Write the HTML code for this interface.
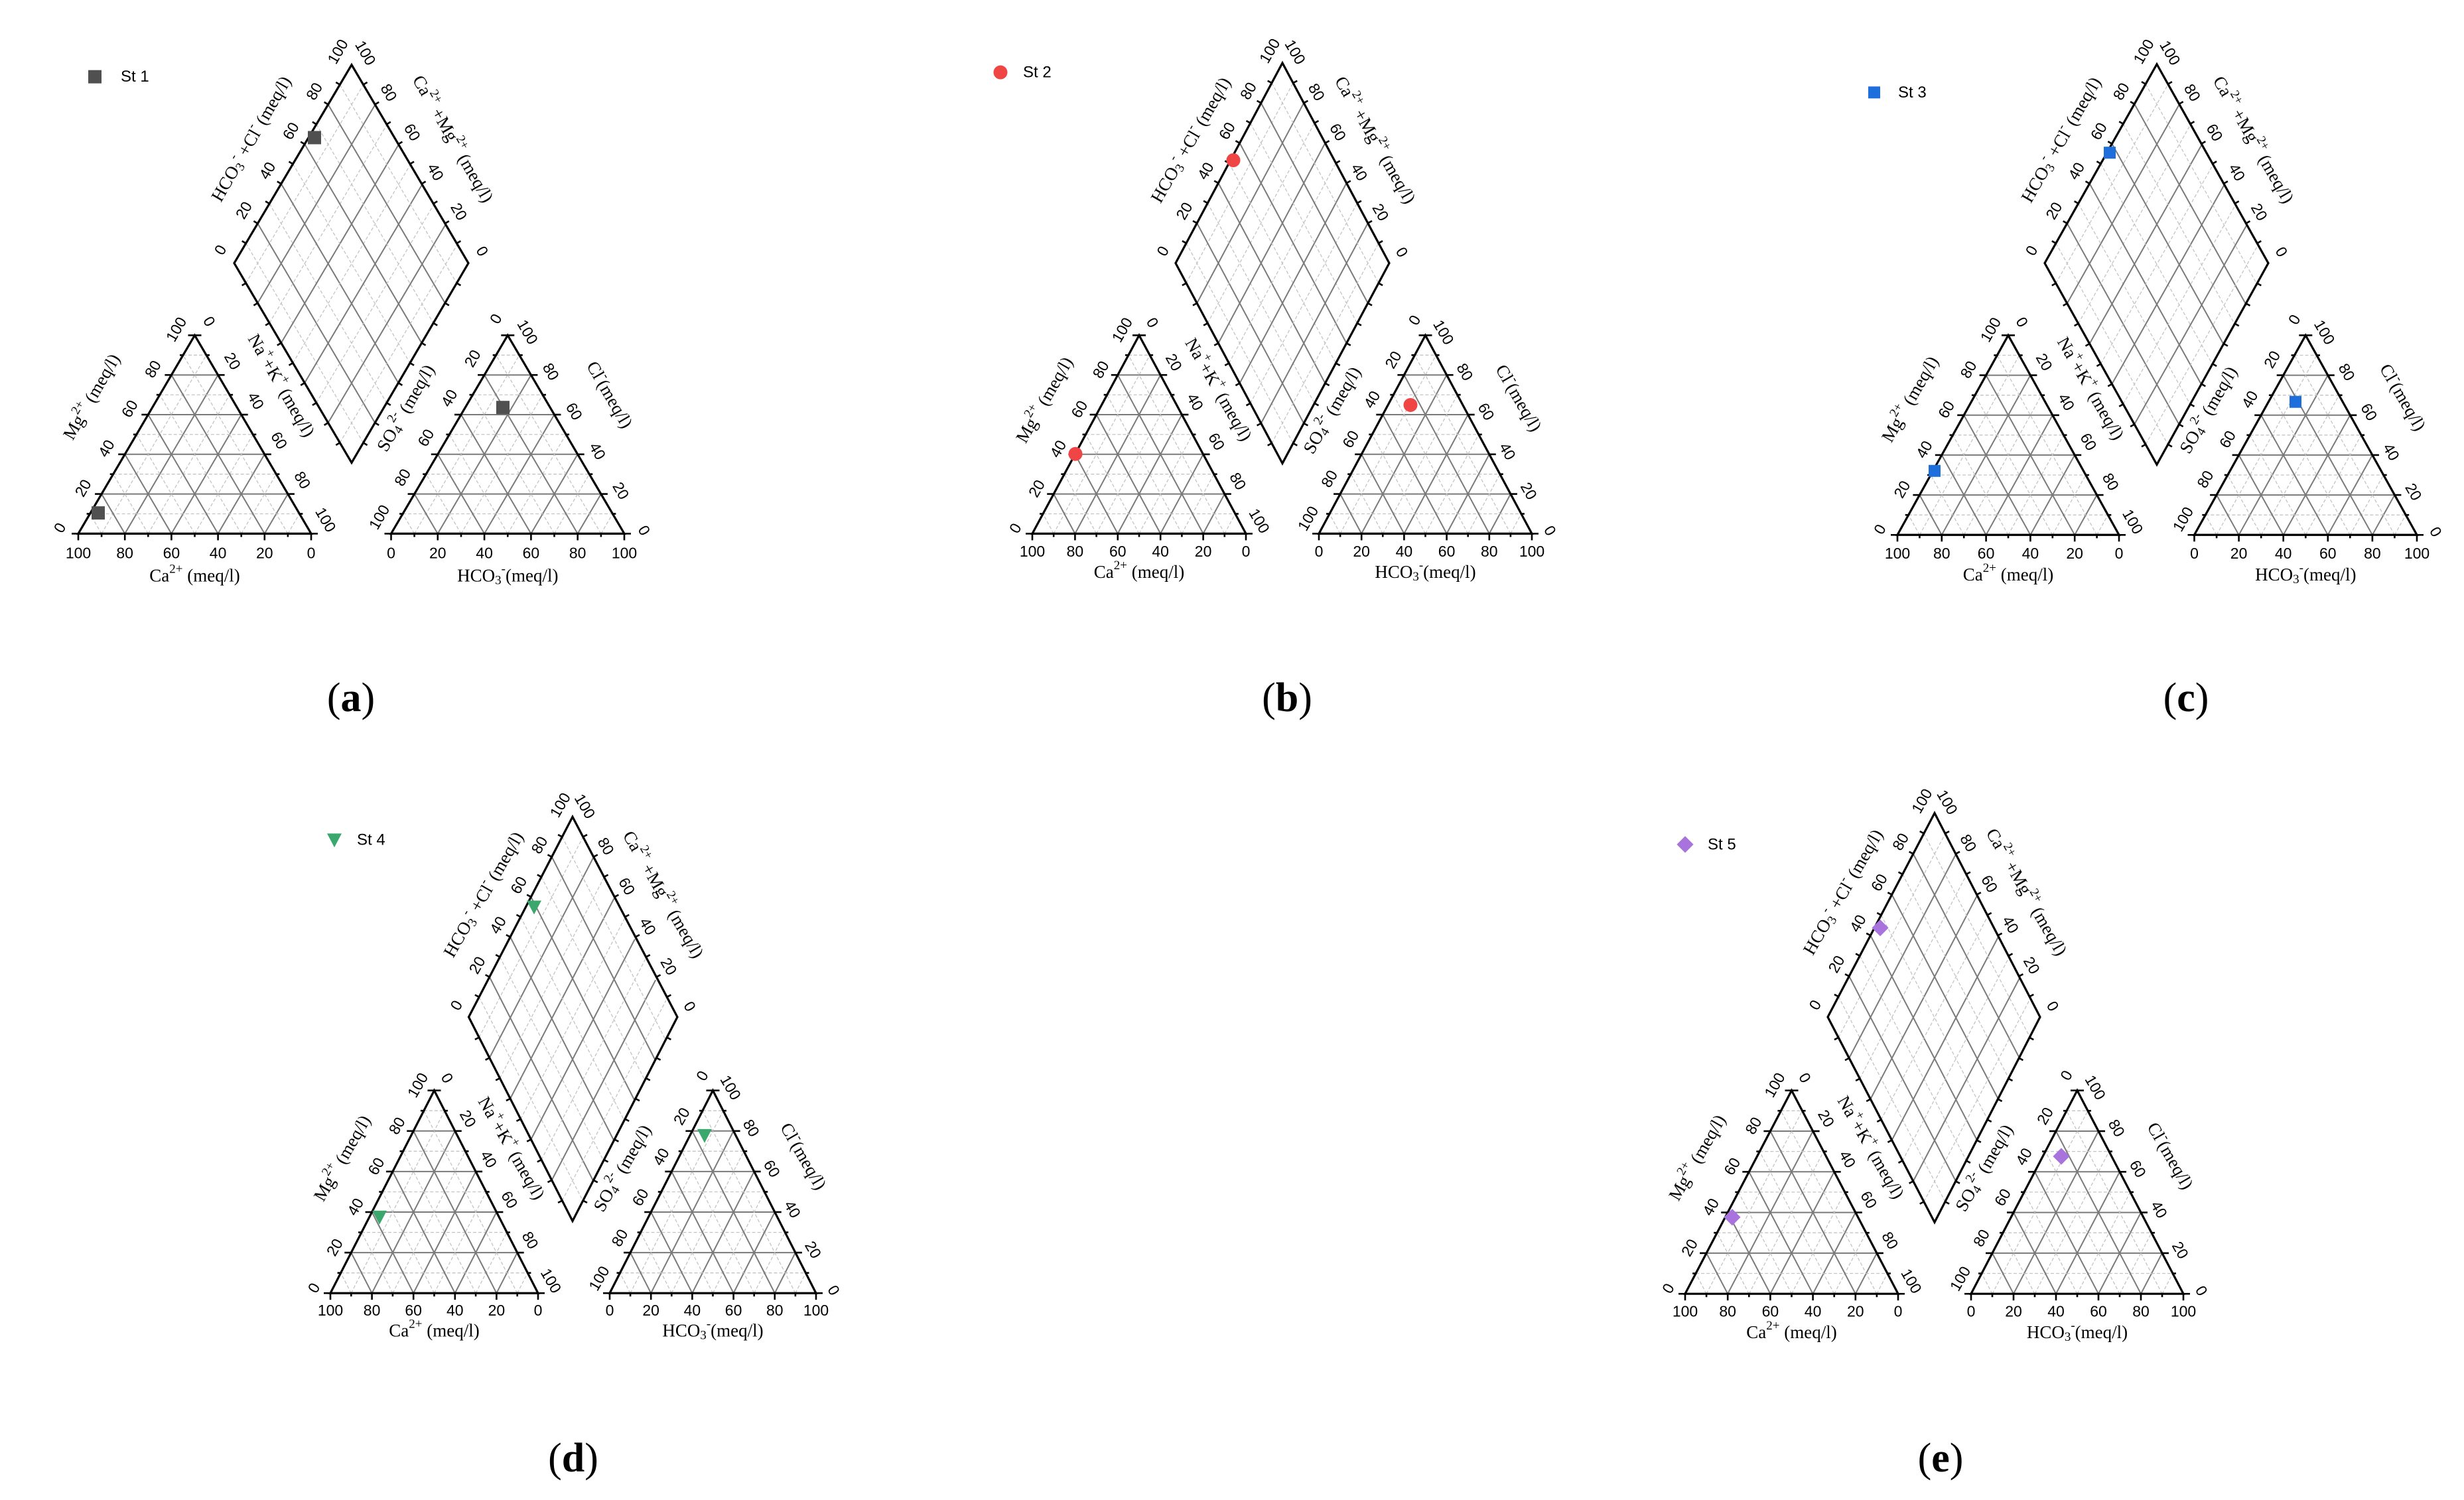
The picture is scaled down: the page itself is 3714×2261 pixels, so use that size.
<!DOCTYPE html>
<html><head><meta charset="utf-8">
<style>
html,body{margin:0;padding:0;background:#fff;}
svg{display:block;}
.g{stroke:#7a7a7a;stroke-width:2;fill:none}
.d{stroke:#c4c4c4;stroke-width:1.3;stroke-dasharray:5 3;fill:none}
.b{stroke:#000;stroke-width:3.2;fill:none;stroke-linejoin:miter}
.t{stroke:#000;stroke-width:2.6}
.n{font-family:"Liberation Sans",Arial,sans-serif;font-size:23px;fill:#000}
.s{font-family:"Liberation Serif","Times New Roman",serif;font-size:27px;fill:#000}
.lg{font-family:"Liberation Sans",Arial,sans-serif;font-size:24px;fill:#000}
.cap{font-family:"Liberation Serif","Times New Roman",serif;font-size:62px;fill:#000}
</style></head>
<body>
<svg id="sv" xmlns="http://www.w3.org/2000/svg" width="3714" height="2261" viewBox="0 0 3714 2261"></svg>
<script>
let s='';
const f=v=>v.toFixed(1);
function ln(a,b,c){s+=`<line x1="${f(a[0])}" y1="${f(a[1])}" x2="${f(b[0])}" y2="${f(b[1])}" class="${c}"/>`;}
function lp(a,b,t){return [a[0]+(b[0]-a[0])*t,a[1]+(b[1]-a[1])*t];}
function tx(x,y,str,rot,cls){s+=`<text x="${f(x)}" y="${f(y)}" text-anchor="middle" dominant-baseline="central" class="${cls}"${rot?` transform="rotate(${rot} ${f(x)} ${f(y)})"`:''}>${str}</text>`;}
const SUP='<tspan dy="-10" font-size="19">', SUB='<tspan dy="7" font-size="19">', E='</tspan>';
function triGrid(A,B,C){
  for(let i=1;i<10;i++){const t=i/10,c=i%2?'d':'g';
    ln(lp(A,C,t),lp(B,C,t),c);
    ln(lp(A,B,t),lp(B,C,1-t),c);
    ln(lp(A,B,t),lp(A,C,t),c);}
  s+=`<polygon points="${A.join(',')} ${B.join(',')} ${C.join(',')}" class="b"/>`;
  for(let i=0;i<=10;i++){const t=i/10,L=i%2?5:10;
    let p=lp(A,B,t);ln(p,[p[0],p[1]+L],'t');
    p=lp(A,C,t);ln(p,[p[0]-L,p[1]],'t');
    p=lp(B,C,t);ln(p,[p[0]+L,p[1]],'t');}
}
function marker(m,x,y,col,sz){
  if(m=='sq')s+=`<rect x="${x-sz/2}" y="${y-sz/2}" width="${sz}" height="${sz}" fill="${col}"/>`;
  else if(m=='ci')s+=`<circle cx="${x}" cy="${y}" r="${sz/2}" fill="${col}"/>`;
  else if(m=='tr')s+=`<polygon points="${x-sz/2},${y-sz*0.45} ${x+sz/2},${y-sz*0.45} ${x},${y+sz*0.5}" fill="${col}"/>`;
  else s+=`<polygon points="${x},${y-sz*0.6} ${x+sz*0.6},${y} ${x},${y+sz*0.6} ${x-sz*0.6},${y}" fill="${col}"/>`;
}
function panel(P){
  const oy=P.oy, Y=y=>oy+(y-oy)*0.946;
  P.L[2]=Y(P.L[2]);P.L[3]=Y(P.L[3]);P.R[2]=Y(P.R[2]);P.R[3]=Y(P.R[3]);
  for(let i=1;i<8;i+=2)P.D[i]=Y(P.D[i]);
  P.pts=P.pts.map(p=>[p[0],Y(p[1])]);P.lg[1]=Y(P.lg[1]);
  const k=(P.L[1]-P.L[0])/351;
  let A=[P.L[0],P.L[2]],B=[P.L[1],P.L[2]],C=[(P.L[0]+P.L[1])/2,P.L[3]];
  triGrid(A,B,C);
  for(let i=0;i<=5;i++){const t=i/5,v=i*20;
    let p=lp(A,B,t);tx(p[0],p[1]+29*k,String(100-v),0,'n');
    p=lp(A,C,t);tx(p[0]-28*k,p[1]-9*k,String(v),-60,'n');
    p=lp(C,B,t);tx(p[0]+22*k,p[1]-21*k,String(v),60,'n');}
  tx((A[0]+B[0])/2,A[1]+63*k,'Ca'+SUP+'2+'+E+'<tspan dy="10"> (meq/l)</tspan>',0,'s');
  let m=lp(A,C,.5);tx(m[0]-68*k,m[1]-57*k,'Mg'+SUP+'2+'+E+'<tspan dy="10"> (meq/l)</tspan>',-60,'s');
  m=lp(C,B,.5);tx(m[0]+43*k,m[1]-74*k,'Na'+SUP+'+'+E+'<tspan dy="10">+K</tspan>'+SUP+'+'+E+'<tspan dy="10"> (meq/l)</tspan>',60,'s');
  A=[P.R[0],P.R[2]];B=[P.R[1],P.R[2]];C=[(P.R[0]+P.R[1])/2,P.R[3]];
  triGrid(A,B,C);
  for(let i=0;i<=5;i++){const t=i/5,v=i*20;
    let p=lp(A,B,t);tx(p[0],p[1]+29*k,String(v),0,'n');
    p=lp(A,C,t);tx(p[0]-18*k,p[1]-25*k,String(100-v),-60,'n');
    p=lp(B,C,t);tx(p[0]+30*k,p[1]-5*k,String(v),60,'n');}
  tx((A[0]+B[0])/2,A[1]+63*k,'HCO'+SUB+'3'+E+'<tspan dy="-17" font-size="19">-</tspan><tspan dy="10">(meq/l)</tspan>',0,'s');
  m=lp(A,C,.5);tx(m[0]-66*k,m[1]-40*k,'SO'+SUB+'4'+E+'<tspan dy="-17" font-size="19">2-</tspan><tspan dy="10"> (meq/l)</tspan>',-60,'s');
  m=lp(B,C,.5);tx(m[0]+66*k,m[1]-60*k,'Cl'+SUP+'-'+E+'<tspan dy="10">(meq/l)</tspan>',60,'s');
  const D=P.D,T=[D[0],D[1]],Lf=[D[2],D[3]],Rt=[D[4],D[5]],Bt=[D[6],D[7]];
  const u=[T[0]-Lf[0],T[1]-Lf[1]],v=[Bt[0]-Lf[0],Bt[1]-Lf[1]];
  for(let i=1;i<10;i++){const a=i/10,c=i%2?'d':'g';
    let p=[Lf[0]+a*u[0],Lf[1]+a*u[1]];ln(p,[p[0]+v[0],p[1]+v[1]],c);
    p=[Lf[0]+a*v[0],Lf[1]+a*v[1]];ln(p,[p[0]+u[0],p[1]+u[1]],c);}
  s+=`<polygon points="${T.join(',')} ${Rt.join(',')} ${Bt.join(',')} ${Lf.join(',')}" class="b"/>`;
  const lu=Math.hypot(u[0],u[1]),lv=Math.hypot(v[0],v[1]);
  const edges=[[Lf,T,[u[1]/lu,-u[0]/lu]],[T,Rt,[v[1]/lv,-v[0]/lv]],[Lf,Bt,[-v[1]/lv,v[0]/lv]],[Bt,Rt,[-u[1]/lu,u[0]/lu]]];
  for(const [a,b,nrm] of edges)for(let i=1;i<10;i++){const p=lp(a,b,i/10);ln(p,[p[0]+nrm[0]*7,p[1]+nrm[1]*7],'t');}
  for(let i=0;i<=5;i++){const t=i/5,vv=i*20;
    let p=lp(Lf,T,t);tx(p[0]-21*k,p[1]-20*k,String(vv),-60,'n');
    p=lp(T,Rt,t);tx(p[0]+21*k,p[1]-18*k,String(100-vv),60,'n');}
  m=lp(Lf,T,.5);tx(m[0]-63*k,m[1]-38*k,'HCO'+SUB+'3'+E+'<tspan dy="-17" font-size="19">-</tspan><tspan dy="10"> +Cl</tspan>'+SUP+'-'+E+'<tspan dy="10"> (meq/l)</tspan>',-60,'s');
  m=lp(T,Rt,.5);tx(m[0]+65*k,m[1]-38*k,'Ca'+SUP+'2+'+E+'<tspan dy="10"> +Mg</tspan>'+SUP+'2+'+E+'<tspan dy="10"> (meq/l)</tspan>',60,'s');
  for(const p of P.pts)marker(P.m,p[0],p[1],P.col,P.sz);
  marker(P.m,P.lg[0],P.lg[1],P.col,P.sz);
  s+=`<text x="${P.lg[2]}" y="${f(P.lg[1])}" dominant-baseline="central" class="lg">${P.name}</text>`;
}
const panels=[
 {oy:40,L:[118,469,848,532],R:[589.5,941,848,532],D:[530,101,353,417,706,417,530,735],pts:[[474,217],[148,815],[758,647]],m:'sq',col:'#505050',sz:20,lg:[143,120,182],name:'St 1'},
 {oy:40,L:[1556,1878,848,532],R:[1988,2309,848,532],D:[1933,98,1772,417,2094,417,1933,736],pts:[[1859,253],[1621,721],[2126,643]],m:'ci',col:'#ef4545',sz:21,lg:[1508,113,1542],name:'St 2'},
 {oy:40,L:[2860,3194,850,532],R:[3307.5,3643,850,532],D:[3251,100,3082,417,3419,417,3251,738],pts:[[3180,241],[2916,748],[3460,638]],m:'sq',col:'#1e6fdc',sz:18,lg:[2825,145,2861],name:'St 3'},
 {oy:1200,L:[498,811,1992,1669],R:[919,1230,1992,1669],D:[863,1233,706.5,1552,1021,1552,863,1877],pts:[[805,1377],[572,1871],[1062,1741]],m:'tr',col:'#3aa86c',sz:22,lg:[504,1270,538],name:'St 4'},
 {oy:1200,L:[2540,2861,1993,1669],R:[2971,3291,1993,1669],D:[2916,1227,2755,1552,3075,1552,2916,1879],pts:[[2834,1410],[2611,1871],[3107,1774]],m:'di',col:'#a873dc',sz:21,lg:[2540,1277,2574],name:'St 5'}
];
panels.forEach(panel);
const caps=[['a',529,1072],['b',1940,1072],['c',3295,1072],['d',864,2218],['e',2925,2218]];
for(const [c,x,y] of caps)s+=`<text x="${x}" y="${y}" text-anchor="middle" class="cap">(<tspan font-weight="bold">${c}</tspan>)</text>`;
document.getElementById('sv').innerHTML=s;
</script>
</body></html>
